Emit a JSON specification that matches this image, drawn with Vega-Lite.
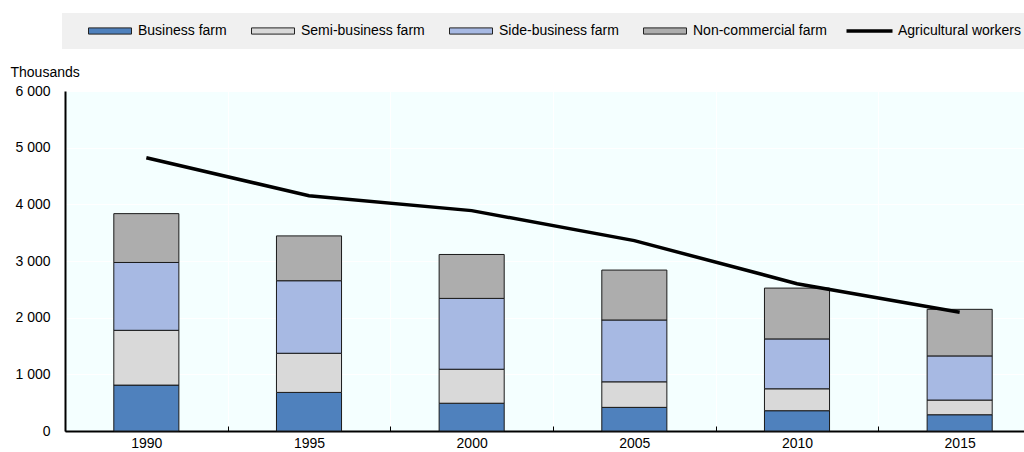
{
  "$schema": "https://vega.github.io/schema/vega-lite/v6.json",
  "width": 959,
  "height": 340,
  "autosize": {"type": "none"},
  "padding": {"left": 65, "top": 91, "right": 0, "bottom": 21},
  "background": "white",
  "config": {
    "font": "Liberation Sans, Arial, sans-serif",
    "view": {"fill": "#F4FFFF", "stroke": null},
    "axis": {"labelFontSize": 14, "labelColor": "#000", "titleColor": "#000", "domainColor": "#000", "domainWidth": 2, "gridColor": "#FFFFFF", "gridWidth": 1, "gridOpacity": 1}
  },
  "datasets": {
    "farms": [
      {"year": "1990", "type": "Business farm", "k": 1, "value": 810},
      {"year": "1990", "type": "Semi-business farm", "k": 2, "value": 967},
      {"year": "1990", "type": "Side-business farm", "k": 3, "value": 1197},
      {"year": "1990", "type": "Non-commercial farm", "k": 4, "value": 862},
      {"year": "1995", "type": "Business farm", "k": 1, "value": 681},
      {"year": "1995", "type": "Semi-business farm", "k": 2, "value": 691},
      {"year": "1995", "type": "Side-business farm", "k": 3, "value": 1280},
      {"year": "1995", "type": "Non-commercial farm", "k": 4, "value": 791},
      {"year": "2000", "type": "Business farm", "k": 1, "value": 490},
      {"year": "2000", "type": "Semi-business farm", "k": 2, "value": 600},
      {"year": "2000", "type": "Side-business farm", "k": 3, "value": 1250},
      {"year": "2000", "type": "Non-commercial farm", "k": 4, "value": 775},
      {"year": "2005", "type": "Business farm", "k": 1, "value": 417},
      {"year": "2005", "type": "Semi-business farm", "k": 2, "value": 451},
      {"year": "2005", "type": "Side-business farm", "k": 3, "value": 1091},
      {"year": "2005", "type": "Non-commercial farm", "k": 4, "value": 881},
      {"year": "2010", "type": "Business farm", "k": 1, "value": 358},
      {"year": "2010", "type": "Semi-business farm", "k": 2, "value": 387},
      {"year": "2010", "type": "Side-business farm", "k": 3, "value": 880},
      {"year": "2010", "type": "Non-commercial farm", "k": 4, "value": 897},
      {"year": "2015", "type": "Business farm", "k": 1, "value": 287},
      {"year": "2015", "type": "Semi-business farm", "k": 2, "value": 259},
      {"year": "2015", "type": "Side-business farm", "k": 3, "value": 779},
      {"year": "2015", "type": "Non-commercial farm", "k": 4, "value": 822}
    ],
    "workers": [
      {"year": "1990", "type": "Agricultural workers", "value": 4821},
      {"year": "1995", "type": "Agricultural workers", "value": 4153},
      {"year": "2000", "type": "Agricultural workers", "value": 3889},
      {"year": "2005", "type": "Agricultural workers", "value": 3360},
      {"year": "2010", "type": "Agricultural workers", "value": 2600},
      {"year": "2015", "type": "Agricultural workers", "value": 2094}
    ]
  },
  "encoding": {
    "x": {
      "field": "year",
      "type": "ordinal",
      "scale": {"paddingInner": 0, "paddingOuter": 0, "range": [0, 976]},
      "axis": {"title": null, "labelAngle": 0, "tickBand": "extent", "grid": true, "ticks": true, "tickSize": -5, "tickColor": "#000", "tickWidth": 1, "labelPadding": 10}
    },
    "y": {
      "field": "value",
      "type": "quantitative",
      "scale": {"domain": [0, 6000], "nice": false},
      "axis": {
        "values": [0, 1000, 2000, 3000, 4000, 5000, 6000],
        "ticks": false,
        "labelPadding": 15,
        "labelExpr": "replace(format(datum.value, ','), ',', ' ')",
        "title": "Thousands",
        "titleAngle": 0,
        "titleAlign": "left",
        "titleBaseline": "alphabetic",
        "titleFontWeight": "normal",
        "titleFontSize": 14,
        "titleX": -55,
        "titleY": -15,
        "grid": true
      }
    }
  },
  "layer": [
    {
      "data": {"name": "farms"},
      "mark": {"type": "bar", "width": {"band": 0.4}, "stroke": "#1A1A1A", "strokeWidth": 1},
      "encoding": {
        "order": {"field": "k", "type": "quantitative"},
        "color": {
          "field": "type",
          "type": "nominal",
          "scale": {
            "domain": ["Business farm", "Semi-business farm", "Side-business farm", "Non-commercial farm"],
            "range": ["#4F81BD", "#D9D9D9", "#A7B9E3", "#ADADAD"]
          },
          "legend": {
            "orient": "none",
            "legendX": -3,
            "legendY": -78,
            "direction": "horizontal",
            "fillColor": "#F0F0F0",
            "padding": 11,
            "title": "\u00a0",
            "titleOrient": "left",
            "titlePadding": 14,
            "labelFontSize": 14,
            "labelColor": "#000",
            "labelOffset": 37,
            "columnPadding": 22,
            "symbolSize": 100,
            "symbolStrokeColor": "#222222",
            "symbolStrokeWidth": 1,
            "encode": {
              "symbols": {
                "update": {
                  "shape": {"value": "M-1.1,-0.62H7.5V0.62H-1.1Z"},
                  "stroke": {"value": "#222222"},
                  "strokeWidth": {"value": 1},
                  "opacity": {"value": 1},
                  "fillOpacity": {"value": 1},
                  "strokeOpacity": {"value": 1}
                }
              }
            }
          }
        }
      }
    },
    {
      "data": {"name": "workers"},
      "mark": {"type": "line", "strokeWidth": 3.5},
      "encoding": {
        "stroke": {
          "field": "type",
          "type": "nominal",
          "scale": {"domain": ["Agricultural workers"], "range": ["#000000"]},
          "legend": {
            "orient": "none",
            "legendX": 765,
            "legendY": -78,
            "direction": "horizontal",
            "fillColor": "#F0F0F0",
            "padding": 11,
            "title": "\u00a0",
            "titleOrient": "left",
            "titlePadding": 4,
            "labelFontSize": 14,
            "labelColor": "#000",
            "labelOffset": 39,
            "symbolSize": 100,
            "encode": {
              "symbols": {
                "update": {
                  "shape": {"value": "M-1.1,0H8.1"},
                  "strokeWidth": {"value": 3.5},
                  "opacity": {"value": 1},
                  "strokeOpacity": {"value": 1}
                }
              }
            }
          }
        }
      }
    },
    {
      "data": {"values": [{}]},
      "mark": {"type": "rule", "color": "#000", "strokeWidth": 1.5},
      "encoding": {"y": {"datum": 6000}, "x": null}
    }
  ]
}
